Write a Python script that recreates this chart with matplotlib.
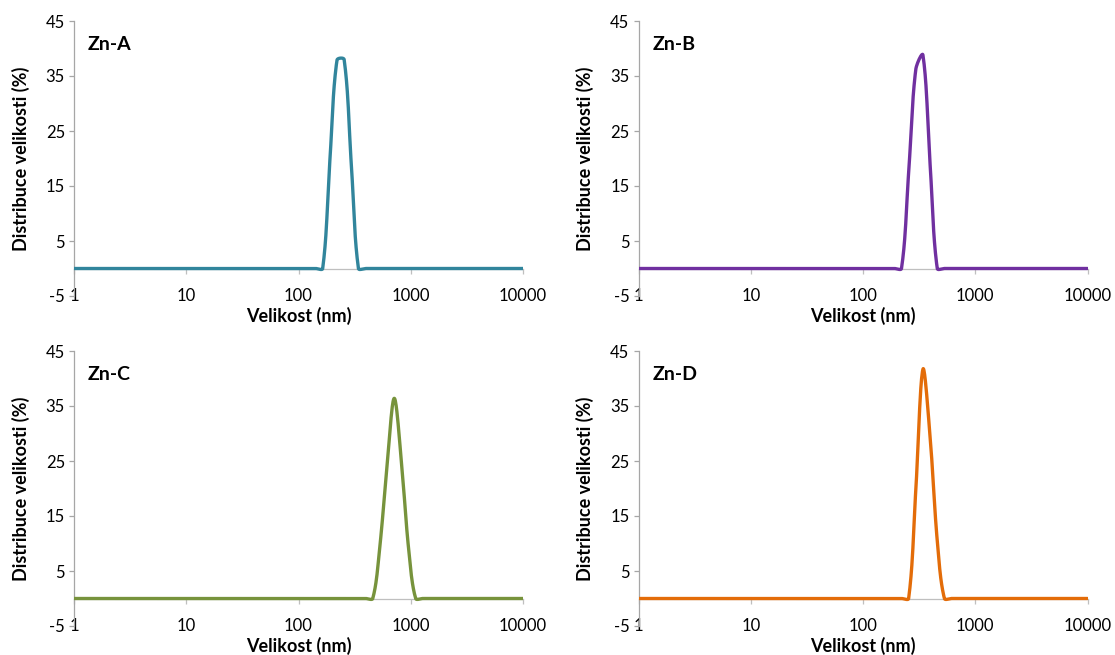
import numpy as np
import matplotlib
matplotlib.use("Agg")
import matplotlib.pyplot as plt
from matplotlib.ticker import FixedLocator, FixedFormatter, NullLocator

plt.rcParams['font.family'] = ['Lato', 'DejaVu Sans']

# Size bins (nm), standard DLS log-spaced bins
sizes_nm = [0.4, 0.4632, 0.5365, 0.6213, 0.7195, 0.8332, 0.9649, 1.117, 1.294, 1.499,
            1.736, 2.01, 2.328, 2.696, 3.122, 3.615, 4.187, 4.849, 5.615, 6.503,
            7.531, 8.721, 10.1, 11.7, 13.54, 15.69, 18.17, 21.04, 24.36, 28.21,
            32.67, 37.84, 43.82, 50.75, 58.77, 68.06, 78.82, 91.28, 105.7, 122.4,
            141.8, 164.2, 190.1, 220.2, 255.0, 295.3, 342.0, 396.1, 458.7, 531.2,
            615.1, 712.4, 825.0, 955.4, 1106, 1281, 1484, 1718, 1990, 2305,
            2669, 3091, 3580, 4145, 4801, 5560, 6439, 7456, 8635, 10000]

# Non-zero parts of each distribution (all other bins are 0 %)
zn_a_sizes = [190.1, 220.2, 255.0, 295.3]
zn_a_values = [19.5, 37.9, 38.0, 19.0]

zn_b_sizes = [255.0, 295.3, 342.0, 396.1]
zn_b_values = [17.4, 36.2, 38.8, 18.9]

zn_c_sizes = [531.2, 615.1, 712.4, 825.0, 955.4]
zn_c_values = [9.6, 24.1, 36.4, 25.0, 9.2]

zn_d_sizes = [295.3, 342.0, 396.1, 458.7]
zn_d_values = [19.7, 41.7, 29.4, 10.5]

panel_names = ['Zn-A', 'Zn-B', 'Zn-C', 'Zn-D']
panel_colors = ['#31859C', '#7030A0', '#77933C', '#E36C09']
x_tick_values = [1, 10, 100, 1000, 10000]
x_tick_labels = ['1', '10', '100', '1000', '10000']
y_tick_values = [-5, 5, 15, 25, 35, 45]
y_tick_labels = ['-5', '5', '15', '25', '35', '45']
x_label = 'Velikost (nm)'
y_label = 'Distribuce velikosti (%)'


def full_series(sz, vals):
    lookup = dict(zip(sz, vals))
    return [lookup.get(s, 0.0) for s in sizes_nm]


def smooth_line(ax, xs, ys, n=20):
    """Excel-like smoothed line: cubic Bezier between points in display space."""
    pts = ax.transData.transform(np.column_stack([xs, ys]))
    out = [pts[0]]
    m = len(pts)
    for i in range(m - 1):
        p0 = pts[i - 1] if i > 0 else pts[i]
        p1 = pts[i]
        p2 = pts[i + 1]
        p3 = pts[i + 2] if i + 2 < m else pts[i + 1]
        d01 = np.hypot(*(p1 - p0))
        d12 = np.hypot(*(p2 - p1))
        d23 = np.hypot(*(p3 - p2))
        t1 = p2 - p0
        t2 = p3 - p1
        f1 = d12 / (d01 + d12) / 1.5 if (d01 + d12) > 0 else 0
        f2 = d12 / (d12 + d23) / 1.5 if (d12 + d23) > 0 else 0
        c1 = p1 + t1 * f1 / 2
        c2 = p2 - t2 * f2 / 2
        t = np.linspace(0, 1, n)[1:, None]
        seg = ((1 - t) ** 3) * p1 + 3 * ((1 - t) ** 2) * t * c1 + 3 * (1 - t) * t ** 2 * c2 + t ** 3 * p2
        out.extend(seg)
    out = np.array(out)
    return ax.transData.inverted().transform(out)


series = [full_series(zn_a_sizes, zn_a_values), full_series(zn_b_sizes, zn_b_values),
          full_series(zn_c_sizes, zn_c_values), full_series(zn_d_sizes, zn_d_values)]

fig = plt.figure(figsize=(11.15, 6.55), dpi=100)
W, H = 1115.0, 655.0
positions = [(74, 296), (638.5, 296), (74, 626), (638.5, 626)]
aw, ah = 449.0, 275.0
axis_grey = '#A6A6A6'

for k in range(4):
    lx, by = positions[k]
    ax = fig.add_axes([lx / W, 1 - by / H, aw / W, ah / H])
    ax.set_xscale('log')
    ax.set_xlim(1, 10000)
    ax.set_ylim(-5, 45)
    for s in ['top', 'right']:
        ax.spines[s].set_visible(False)
    ax.spines['bottom'].set_position(('data', 0))
    ax.spines['bottom'].set_color('#BFBFBF')
    ax.spines['left'].set_color(axis_grey)
    ax.spines['bottom'].set_linewidth(0.9)
    ax.spines['left'].set_linewidth(0.9)
    ax.xaxis.set_major_locator(FixedLocator(x_tick_values))
    ax.xaxis.set_major_formatter(FixedFormatter(x_tick_labels))
    ax.xaxis.set_minor_locator(NullLocator())
    ax.yaxis.set_major_locator(FixedLocator(y_tick_values))
    ax.yaxis.set_major_formatter(FixedFormatter(y_tick_labels))
    ax.tick_params(axis='x', direction='out', length=3.5, width=0.9, color='#BFBFBF',
                   labelsize=12, labelcolor='black', pad=10.5)
    ax.tick_params(axis='y', direction='out', length=3.5, width=0.9, color=axis_grey,
                   labelsize=12, labelcolor='black', pad=3)
    fig.canvas.draw()
    xy = smooth_line(ax, np.array(sizes_nm, dtype=float), np.array(series[k], dtype=float))
    ax.plot(xy[:, 0], xy[:, 1], color=panel_colors[k], lw=2.4, solid_capstyle='round',
            solid_joinstyle='round', zorder=3)
    ax.set_xlabel(x_label, fontsize=13, fontweight='bold')
    ax.xaxis.set_label_coords(0.5, -0.072)
    ax.xaxis.label.set_va('center')
    ax.set_ylabel(y_label, fontsize=13, fontweight='bold')
    ax.yaxis.set_label_coords(-0.119, 0.5)
    ax.yaxis.label.set_va('center')
    ax.text(0.031, 0.916, panel_names[k], transform=ax.transAxes, fontsize=14,
            fontweight='bold', ha='left', va='center')

fig.savefig('out.png', dpi=100)
